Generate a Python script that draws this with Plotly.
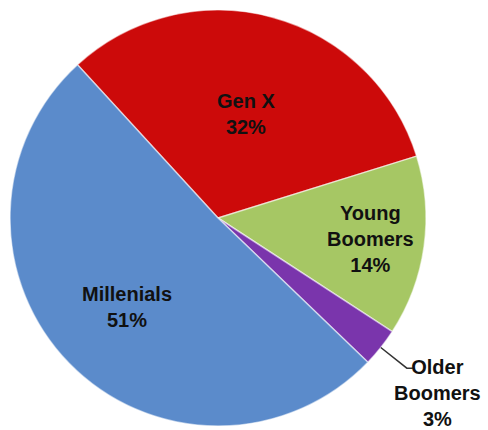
import math
import plotly.graph_objects as go

# Generation share data
labels = ["Gen X", "Young Boomers", "Older Boomers", "Millenials"]
label_lines = ["Gen X", "Young<br>Boomers", "Older<br>Boomers", "Millenials"]
shares = [32, 14, 3, 51]
colors = ["#CC0A0A", "#A6C764", "#7A35AC", "#5B8BCB"]

# Label placement: fraction of radius from the centre along each slice's mid-angle
label_radius = [0.52, 0.74, 1.35, 0.61]

W, H = 488, 430
CX, CY, R = 218, 218, 208          # pie centre and radius in pixels
START = -42.5                      # first slice starts here (deg clockwise from 12 o'clock)

fig = go.Figure(go.Pie(
    labels=labels,
    values=shares,
    sort=False,
    direction="clockwise",
    rotation=START,
    textinfo="none",
    hoverinfo="label+percent",
    marker=dict(colors=colors, line=dict(color="rgba(255,255,255,0.55)", width=1.5)),
    domain=dict(x=[(CX - R) / W, (CX + R) / W],
                y=[(H - CY - R) / H, (H - CY + R) / H]),
    showlegend=False,
))

total = sum(shares)
angle = START
annotations = []
shapes = []
for name, val, rf in zip(label_lines, shares, label_radius):
    span = 360.0 * val / total
    mid = math.radians(angle + span / 2)
    angle += span
    px = CX + rf * R * math.sin(mid)
    py = CY - rf * R * math.cos(mid)
    annotations.append(dict(
        x=px / W, y=1 - py / H, xref="paper", yref="paper",
        text=f"<b>{name}<br>{val}%</b>", showarrow=False,
        xanchor="center", yanchor="middle", align="center",
        font=dict(family="Liberation Sans, Arial, sans-serif", size=20, color="#111111"),
    ))
    if rf > 1:
        # bent leader line from the slice edge towards the outside label
        x0 = CX + 1.0 * R * math.sin(mid)
        y0 = CY - 1.0 * R * math.cos(mid)
        x1 = CX + 1.16 * R * math.sin(mid)
        y1 = CY - 1.16 * R * math.cos(mid)
        x2 = x1 + 6
        shapes.append(dict(
            type="path", xref="paper", yref="paper",
            path=(f"M {x0 / W},{1 - y0 / H} L {x1 / W},{1 - y1 / H} "
                  f"L {x2 / W},{1 - y1 / H}"),
            line=dict(color="#333333", width=1.5),
        ))

fig.update_layout(
    width=W, height=H,
    margin=dict(l=0, r=0, t=0, b=0),
    paper_bgcolor="white",
    plot_bgcolor="white",
    annotations=annotations,
    shapes=shapes,
)

fig.write_html("out.html")
